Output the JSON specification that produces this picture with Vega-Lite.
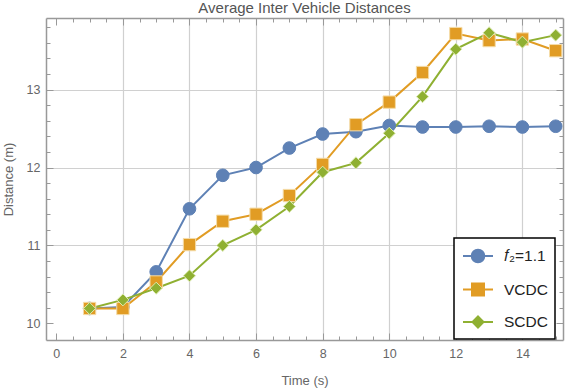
{
  "$schema": "https://vega.github.io/schema/vega-lite/v6.json",
  "width": 517,
  "height": 322,
  "autosize": {"type": "none"},
  "padding": {"left": 46, "top": 18, "right": 5, "bottom": 52},
  "background": "white",
  "config": {"font": "Liberation Sans", "view": {"stroke": null}},
  "title": {"text": "Average Inter Vehicle Distances", "fontSize": 15, "font": "Liberation Sans", "fontWeight": "normal", "color": "#555", "offset": 2, "anchor": "middle"},
  "data": {"values": [
    {"t": 1, "d": 10.19, "series": "𝑓₂=1.1"},
    {"t": 2, "d": 10.21, "series": "𝑓₂=1.1"},
    {"t": 3, "d": 10.66, "series": "𝑓₂=1.1"},
    {"t": 4, "d": 11.47, "series": "𝑓₂=1.1"},
    {"t": 5, "d": 11.9, "series": "𝑓₂=1.1"},
    {"t": 6, "d": 12.0, "series": "𝑓₂=1.1"},
    {"t": 7, "d": 12.25, "series": "𝑓₂=1.1"},
    {"t": 8, "d": 12.43, "series": "𝑓₂=1.1"},
    {"t": 9, "d": 12.46, "series": "𝑓₂=1.1"},
    {"t": 10, "d": 12.54, "series": "𝑓₂=1.1"},
    {"t": 11, "d": 12.52, "series": "𝑓₂=1.1"},
    {"t": 12, "d": 12.52, "series": "𝑓₂=1.1"},
    {"t": 13, "d": 12.53, "series": "𝑓₂=1.1"},
    {"t": 14, "d": 12.52, "series": "𝑓₂=1.1"},
    {"t": 15, "d": 12.53, "series": "𝑓₂=1.1"},
    {"t": 1, "d": 10.19, "series": "VCDC"},
    {"t": 2, "d": 10.19, "series": "VCDC"},
    {"t": 3, "d": 10.53, "series": "VCDC"},
    {"t": 4, "d": 11.01, "series": "VCDC"},
    {"t": 5, "d": 11.31, "series": "VCDC"},
    {"t": 6, "d": 11.4, "series": "VCDC"},
    {"t": 7, "d": 11.64, "series": "VCDC"},
    {"t": 8, "d": 12.04, "series": "VCDC"},
    {"t": 9, "d": 12.55, "series": "VCDC"},
    {"t": 10, "d": 12.84, "series": "VCDC"},
    {"t": 11, "d": 13.22, "series": "VCDC"},
    {"t": 12, "d": 13.72, "series": "VCDC"},
    {"t": 13, "d": 13.63, "series": "VCDC"},
    {"t": 14, "d": 13.65, "series": "VCDC"},
    {"t": 15, "d": 13.5, "series": "VCDC"},
    {"t": 1, "d": 10.19, "series": "SCDC"},
    {"t": 2, "d": 10.3, "series": "SCDC"},
    {"t": 3, "d": 10.45, "series": "SCDC"},
    {"t": 4, "d": 10.61, "series": "SCDC"},
    {"t": 5, "d": 11.0, "series": "SCDC"},
    {"t": 6, "d": 11.2, "series": "SCDC"},
    {"t": 7, "d": 11.5, "series": "SCDC"},
    {"t": 8, "d": 11.94, "series": "SCDC"},
    {"t": 9, "d": 12.06, "series": "SCDC"},
    {"t": 10, "d": 12.44, "series": "SCDC"},
    {"t": 11, "d": 12.91, "series": "SCDC"},
    {"t": 12, "d": 13.52, "series": "SCDC"},
    {"t": 13, "d": 13.73, "series": "SCDC"},
    {"t": 14, "d": 13.61, "series": "SCDC"},
    {"t": 15, "d": 13.7, "series": "SCDC"}
  ]},
  "layer": [
    {
      "mark": {"type": "line", "strokeWidth": 2},
      "encoding": {
        "x": {
          "field": "t", "type": "quantitative",
          "scale": {"domain": [-0.31, 15.22], "nice": false, "zero": false},
          "axis": {
            "orient": "bottom",
            "values": [0,0.5,1,1.5,2,2.5,3,3.5,4,4.5,5,5.5,6,6.5,7,7.5,8,8.5,9,9.5,10,10.5,11,11.5,12,12.5,13,13.5,14,14.5,15],
            "tickCount": 100,
            "labelExpr": "datum.value % 2 == 0 ? format(datum.value, 'd') : ''",
            "labelOverlap": false, "labelFlush": false,
            "tickSize": {"condition": {"test": "datum.value % 2 == 0", "value": -7}, "value": -4},
            "tickColor": "#999", "tickWidth": 1,
            "labelPadding": 14, "labelFontSize": 12.5, "labelColor": "#666",
            "domainColor": "#999", "domainWidth": 1.5,
            "grid": true,
            "gridColor": {"condition": {"test": "datum.value % 2 == 0 && datum.value != 0", "value": "#d0d0d0"}, "value": "transparent"},
            "gridWidth": 1.2,
            "title": "Time (s)", "titleFontSize": 13, "titleFontWeight": "normal", "titleColor": "#666", "titlePadding": 12
          }
        },
        "y": {
          "field": "d", "type": "quantitative",
          "scale": {"domain": [9.785, 13.92], "nice": false, "zero": false},
          "axis": {
            "orient": "left",
            "values": [10,10.2,10.4,10.6,10.8,11,11.2,11.4,11.6,11.8,12,12.2,12.4,12.6,12.8,13,13.2,13.4,13.6,13.8],
            "tickCount": 100,
            "labelExpr": "abs(datum.value - round(datum.value)) < 0.01 ? format(datum.value, 'd') : ''",
            "labelOverlap": false, "labelFlush": false,
            "tickSize": {"condition": {"test": "abs(datum.value - round(datum.value)) < 0.01", "value": -7}, "value": -4},
            "tickColor": "#999", "tickWidth": 1,
            "labelPadding": 13, "labelFontSize": 12.5, "labelColor": "#666",
            "domainColor": "#999", "domainWidth": 1.5,
            "grid": true,
            "gridColor": {"condition": {"test": "abs(datum.value - round(datum.value)) < 0.01 && datum.value > 10.5", "value": "#d0d0d0"}, "value": "transparent"},
            "gridWidth": 1.2,
            "title": "Distance (m)", "titleFontSize": 13, "titleFontWeight": "normal", "titleColor": "#666", "titlePadding": 11
          }
        },
        "color": {
          "field": "series", "type": "nominal",
          "scale": {"domain": ["𝑓₂=1.1", "VCDC", "SCDC"], "range": ["#5E81B5", "#E19C24", "#8FB032"]},
          "legend": {
            "orient": "none", "legendX": 408, "legendY": 220, "title": null,
            "symbolSize": 400, "symbolStrokeWidth": 2,
            "labelFontSize": 15.5, "labelColor": "#222", "labelFont": "Liberation Sans",
            "padding": 7, "rowPadding": 11.5, "labelOffset": 15, "symbolOffset": 6,
            "fillColor": "white", "strokeColor": "black",
            "encode": {
              "legend": {"update": {"strokeWidth": {"value": 1.5}}},
              "symbols": {
                "update": {
                  "shape": {"signal": "datum.value === 'VCDC' ? 'M-1.5,0H-0.6M0.6,0H1.5M-0.6,-0.6H0.6V0.6H-0.6Z' : datum.value === 'SCDC' ? 'M-1.5,0H-0.55M0.55,0H1.5M0,-0.55L0.55,0L0,0.55L-0.55,0Z' : 'M-1.5,0H-0.63M0.63,0H1.5M-0.63,0A0.63,0.63,0,1,0,0.63,0A0.63,0.63,0,1,0,-0.63,0Z'"},
                  "fill": {"signal": "scale('color', datum.value)"}
                }
              }
            }
          }
        }
      }
    },
    {
      "mark": {"type": "point", "filled": true, "opacity": 1, "strokeWidth": 1},
      "encoding": {
        "x": {
          "field": "t", "type": "quantitative",
          "axis": {
            "orient": "top",
            "values": [0,0.5,1,1.5,2,2.5,3,3.5,4,4.5,5,5.5,6,6.5,7,7.5,8,8.5,9,9.5,10,10.5,11,11.5,12,12.5,13,13.5,14,14.5,15],
            "tickCount": 100,
            "labels": false, "grid": false, "title": null,
            "tickSize": {"condition": {"test": "datum.value % 2 == 0", "value": -7}, "value": -4},
            "tickColor": "#999", "tickWidth": 1,
            "domainColor": "#999", "domainWidth": 1.5
          }
        },
        "y": {
          "field": "d", "type": "quantitative",
          "axis": {
            "orient": "right",
            "values": [10,10.2,10.4,10.6,10.8,11,11.2,11.4,11.6,11.8,12,12.2,12.4,12.6,12.8,13,13.2,13.4,13.6,13.8],
            "tickCount": 100,
            "labels": false, "grid": false, "title": null,
            "tickSize": {"condition": {"test": "abs(datum.value - round(datum.value)) < 0.01", "value": -7}, "value": -4},
            "tickColor": "#999", "tickWidth": 1,
            "domainColor": "#999", "domainWidth": 1.5
          }
        },
        "fill": {"field": "series", "type": "nominal", "sort": ["𝑓₂=1.1", "VCDC", "SCDC"], "scale": {"range": ["#5E81B5", "#E19C24", "#8FB032"]}, "legend": null},
        "shape": {"field": "series", "type": "nominal", "sort": ["𝑓₂=1.1", "VCDC", "SCDC"], "scale": {"range": ["circle", "square", "diamond"]}, "legend": null},
        "size": {"field": "series", "type": "nominal", "sort": ["𝑓₂=1.1", "VCDC", "SCDC"], "scale": {"range": [160, 144, 110]}, "legend": null},
        "stroke": {"field": "series", "type": "nominal", "sort": ["𝑓₂=1.1", "VCDC", "SCDC"], "scale": {"range": ["#5E81B5", "#F5DCA8", "#DCEAB0"]}, "legend": null}
      }
    }
  ]
}
